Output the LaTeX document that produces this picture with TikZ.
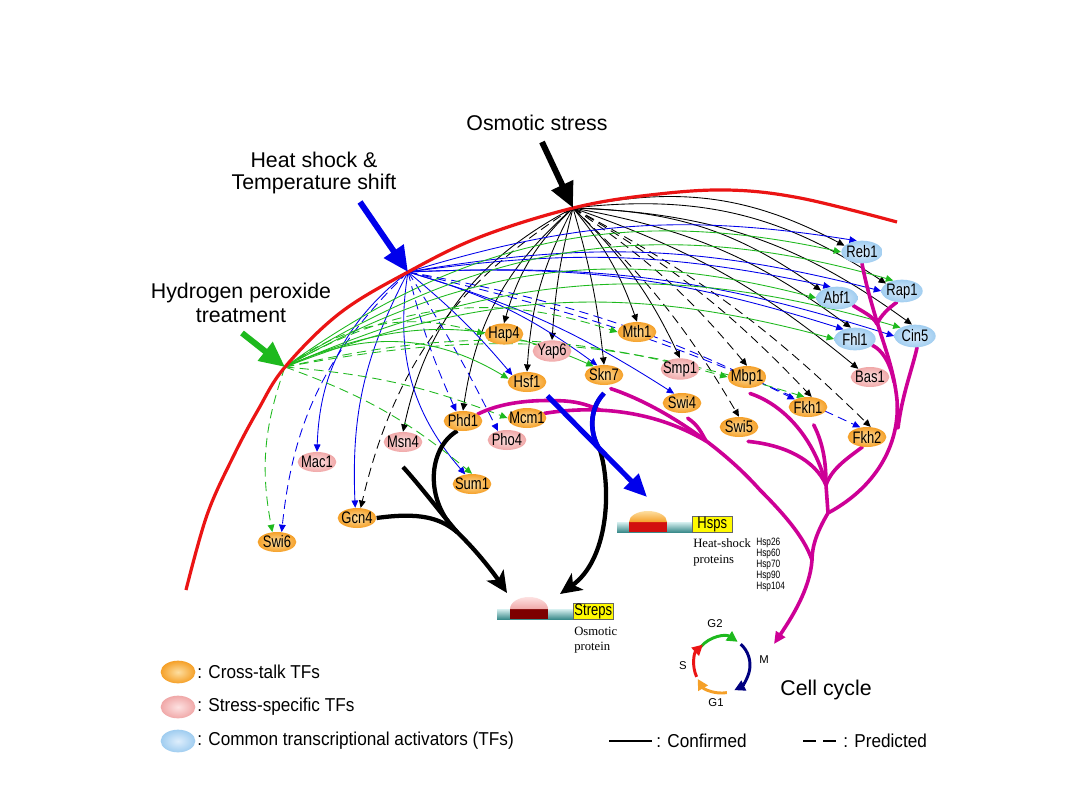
\documentclass[tikz,border=0pt]{standalone}
\usepackage{fontspec}
\setmainfont{Liberation Sans}
\newfontfamily\narrowf[FakeStretch=0.78]{Liberation Sans}
\newfontfamily\legf[FakeStretch=0.92]{Liberation Sans}
\newfontfamily\seriff{Liberation Serif}
\usetikzlibrary{arrows.meta,shapes.geometric}
\pgfdeclarelayer{bg}
\pgfsetlayers{bg,main}
\definecolor{orgA}{RGB}{245,160,40}
\definecolor{orgB}{RGB}{253,222,160}
\definecolor{pnkA}{RGB}{240,168,168}
\definecolor{pnkB}{RGB}{253,225,225}
\definecolor{bluA}{RGB}{160,205,240}
\definecolor{bluB}{RGB}{222,238,252}
\definecolor{cblue}{RGB}{0,0,235}
\definecolor{cgreen}{RGB}{30,185,30}
\definecolor{cred}{RGB}{235,20,20}
\definecolor{cmag}{RGB}{205,0,150}
\definecolor{cnavy}{RGB}{0,0,128}
\definecolor{corange}{RGB}{245,160,40}
\definecolor{tealA}{RGB}{60,140,140}
\definecolor{tealB}{RGB}{215,240,240}
\definecolor{dred}{RGB}{125,0,0}
\definecolor{hred}{RGB}{210,15,15}
\definecolor{yel}{RGB}{255,250,0}
\newcommand{\zb}[1]{\makebox[0pt]{#1}}
\begin{document}
\begin{tikzpicture}[x=0.75pt,y=-0.75pt,
  tfb/.style={ellipse, inner sep=0pt, minimum width=29pt, minimum height=15pt, font=\narrowf\fontsize{12.5}{12.5}\selectfont, shading=radial},
  ct/.style={tfb, inner color=orgB, outer color=orgA},
  ss/.style={tfb, inner color=pnkB, outer color=pnkA},
  ca/.style={tfb, minimum width=31pt, minimum height=17pt, inner color=bluB, outer color=bluA},
  ar/.style={line width=0.65pt, -{Triangle[length=5.5pt,width=5pt]}},
  kc/.style={ar, black},
  bc/.style={ar, cblue},
  gc/.style={ar, cgreen},
  pr/.style={dash pattern=on 7pt off 4pt},
  ttl/.style={font=\fontsize{16}{16}\selectfont, align=center},
  mag/.style={cmag, line width=2.7pt, line cap=round},
  thk/.style={line width=3.2pt, -{Stealth[length=16pt,width=15pt,inset=4pt]}},
  lgt/.style={anchor=west, inner sep=0pt, font=\legf\fontsize{14}{14}\selectfont},
  ccl/.style={font=\fontsize{8.5}{8.5}\selectfont, inner sep=0pt},
  cca/.style={line width=2.2pt, -{Triangle[length=8pt,width=8pt]}},
  ybox/.style={draw=black!60, fill=yel, inner sep=0pt, minimum width=30pt, minimum height=12pt, anchor=north west, font=\narrowf\fontsize{12.5}{12.5}\selectfont},
]
\useasboundingbox (0,0) rectangle (1080,810);
\begin{pgfonlayer}{bg}
\fill[white] (0,0) rectangle (1080,810);
\end{pgfonlayer}

% sources
\coordinate (O) at (573,208);
\coordinate (H) at (408,272);
\coordinate (P) at (285,367);
\coordinate (oA) at (542,142);
\coordinate (hA) at (360,202);
\coordinate (pA) at (242,333);
\coordinate (sA) at (507,593);
\coordinate (sB) at (560,594);
\coordinate (J) at (457,532);
\coordinate (M1) at (600,450);
\coordinate (hT) at (647,497);
\coordinate (ccT) at (774,644);
\coordinate (J2) at (826,485);
\coordinate (J3) at (828,513);
\coordinate (J4) at (812,560);
\coordinate (J5) at (706,441);
\coordinate (J6) at (600,410);

% titles
\node[ttl] (osl) at (537,123) {Osmotic stress};
\node[ttl] (hsl) at (314,173) {Heat shock \&\\Temperature shift};
\node[ttl, font=\fontsize{16}{18}\selectfont] (hpl) at (241,303) {Hydrogen peroxide\\treatment};

% TF nodes
\node[ca] (Reb1) at (862,252) {\zb{Reb1}};
\node[ca] (Rap1) at (902,291) {\zb{Rap1}};
\node[ca] (Abf1) at (837,298) {\zb{Abf1}};
\node[ca] (Fhl1) at (855,339) {\zb{Fhl1}};
\node[ca] (Cin5) at (915,336) {\zb{Cin5}};
\node[ss] (Bas1) at (870,377) {\zb{Bas1}};
\node[ct] (Hap4) at (504,334) {\zb{Hap4}};
\node[ss] (Yap6) at (552,351) {\zb{Yap6}};
\node[ct] (Mth1) at (637,332) {\zb{Mth1}};
\node[ct] (Hsf1) at (527,382) {\zb{Hsf1}};
\node[ct] (Skn7) at (604,375) {\zb{Skn7}};
\node[ss] (Smp1) at (680,369) {\zb{Smp1}};
\node[ct] (Mbp1) at (747,377) {\zb{Mbp1}};
\node[ct] (Swi4) at (682,403) {\zb{Swi4}};
\node[ct] (Fkh1) at (808,407) {\zb{Fkh1}};
\node[ct] (Swi5) at (739,427) {\zb{Swi5}};
\node[ct] (Fkh2) at (867,437) {\zb{Fkh2}};
\node[ct] (Phd1) at (463,421) {\zb{Phd1}};
\node[ct] (Mcm1) at (527,418) {\zb{Mcm1}};
\node[ss] (Pho4) at (507,440) {\zb{Pho4}};
\node[ss] (Msn4) at (403,442) {\zb{Msn4}};
\node[ss] (Mac1) at (317,462) {\zb{Mac1}};
\node[ct] (Sum1) at (472,484) {\zb{Sum1}};
\node[ct] (Gcn4) at (357,518) {\zb{Gcn4}};
\node[ct] (Swi6) at (277,542) {\zb{Swi6}};

\begin{pgfonlayer}{bg}
% black, osmotic
\draw[kc] (O) to[bend left=20] (Reb1.160);
\draw[kc] (O) to[bend left=20] (Rap1.155);
\draw[kc] (O) to[bend left=17] (Abf1.155);
\draw[kc] (O) to[bend left=17] (Cin5.105);
\draw[kc] (O) to[bend left=13] (Fhl1.110);
\draw[kc] (O) to[bend left=10] (Bas1.145);
\draw[kc] (O) to[bend left=10] (Mth1.north);
\draw[kc] (O) to[bend left=10] (Smp1.north);
\draw[kc] (O) to[bend left=5] (Skn7.north);
\draw[kc] (O) to[bend right=5] (Yap6.north);
\draw[kc] (O) to[bend right=15] (Hap4.north);
\draw[kc] (O) to[bend right=12] (Hsf1.north);
\draw[kc] (O) to[bend right=20] (Phd1.north);
\draw[kc] (O) to[bend right=25] (Msn4.north);
\draw[kc,pr] (O) to[bend right=22] (Gcn4.70);
\draw[kc,pr] (O) to[bend left=8] (Mbp1.north);
\draw[kc,pr] (O) to[bend left=8] (Swi5.north);
\draw[kc,pr] (O) to[bend left=8] (Fkh1.70);
\draw[kc,pr] (O) to[bend left=8] (Fkh2.70);
% blue, heat
\draw[bc] (H) to[bend left=13] (Reb1.115);
\draw[bc] (H) to[bend left=12] (Rap1.west);
\draw[bc] (H) to[bend left=10] (Abf1.120);
\draw[bc] (H) to[bend left=10] (Cin5.west);
\draw[bc] (H) to[bend left=10] (Fhl1.140);
\draw[bc] (H) to[bend left=5] (Hsf1.155);
\draw[bc] (H) to[bend left=10] (Skn7.125);
\draw[bc] (H) to[bend left=8] (Swi4.130);
\draw[bc,pr] (H) to[bend right=5] (Phd1.125);
\draw[bc,pr] (H) to[bend left=3] (Pho4.135);
\draw[bc] (H) to[bend right=25] (Sum1.125);
\draw[bc] (H) to[bend right=15] (Gcn4.100);
\draw[bc] (H) to[bend right=25] (Mac1.north);
\draw[bc,pr] (H) to[bend right=20] (Swi6.65);
\draw[bc,pr] (H) to[bend left=8] (Fkh1.150);
\draw[bc,pr] (H) to[bend left=6] (Fkh2.125);
% green, peroxide
\draw[gc] (P) to[bend left=24] (Reb1.west);
\draw[gc] (P) to[bend left=24] (Rap1.130);
\draw[gc] (P) to[bend left=22] (Abf1.west);
\draw[gc] (P) to[bend left=20] (Cin5.150);
\draw[gc] (P) to[bend left=18] (Fhl1.west);
\draw[gc,pr] (P) to[bend left=26] (Hap4.west);
\draw[gc,pr] (P) to[bend left=24] (Mth1.west);
\draw[gc] (P) to[bend left=28] (Hsf1.170);
\draw[gc] (P) to[bend left=24] (Skn7.140);
\draw[gc,pr] (P) to[bend left=8] (Mcm1.west);
\draw[gc,pr] (P) to[bend left=10] (Sum1.north);
\draw[gc,pr] (P) to[bend right=15] (Swi6.115);
\draw[gc,pr] (P) to[bend left=14] (Mbp1.west);
\draw[gc,pr] (P) to[bend left=14] (Fkh1.110);

% red border
\draw[cred, line width=2.4pt] plot[smooth, tension=0.6] coordinates {(186,590) (207,515) (233,457) (258,410) (285,367) (340,313) (408,272) (480,237) (573,208) (650,195) (727,190) (800,198) (897,222)};

% magenta cell-cycle network
\draw[mag, -{Triangle[length=9pt,width=8pt]}] (Reb1.south) .. controls (866,285) and (872,305) .. (877,322) .. controls (884,345) and (894,370) .. (897,400) .. controls (900,440) and (880,485) .. (J3) .. controls (818,530) and (812,545) .. (J4) .. controls (810,590) and (790,620) .. (ccT);
\draw[mag] (Abf1.-25) .. controls (863,312) and (873,316) .. (877,324);
\draw[mag] (Rap1.-115) .. controls (889,308) and (881,315) .. (877,324);
\draw[mag] (Fhl1.-20) .. controls (882,350) and (890,362) .. (894,382);
\draw[mag] (Cin5.-80) .. controls (912,370) and (902,395) .. (898,428);
\draw[mag] (Fkh2.-115) .. controls (848,458) and (832,468) .. (J2);
\draw[mag] ([yshift=-6pt]Fkh1.-60) .. controls (824,445) and (826,465) .. (J2);
\draw[mag] ([yshift=-4pt]Mbp1.-75) .. controls (785,405) and (815,440) .. (J2);
\draw[mag] ([yshift=-4pt]Swi5.-45) .. controls (785,445) and (815,460) .. (J2);
\draw[mag] (J2) -- (J3);
\draw[mag] ([yshift=-3pt]Skn7.-55) .. controls (660,405) and (720,445) .. (760,490) .. controls (790,520) and (805,540) .. (J4);
\draw[mag] ([yshift=-4pt]Swi4.-60) .. controls (698,425) and (701,432) .. (J5);
\draw[mag] (Mcm1.15) .. controls (590,406) and (650,408) .. (J5);
\draw[mag] (Phd1.25) .. controls (500,403) and (530,399) .. (565,401) .. controls (580,402) and (590,406) .. (J6);

% thick black to Streps
\draw[thk] (Gcn4.east) .. controls (420,512) and (440,518) .. (J) .. controls (478,552) and (495,575) .. (sA);
\draw[line width=3.2pt] ([yshift=-11pt]Msn4.south) .. controls (422,488) and (440,512) .. (J);
\draw[line width=3.2pt] (Phd1.-120) .. controls (428,448) and (424,500) .. (J);
\draw[thk] ([yshift=-6pt]Skn7.south) .. controls (588,410) and (590,435) .. (M1) .. controls (612,490) and (608,560) .. (sB);
% blue to Hsps
\draw[cblue, line width=3.8pt, -{Triangle[length=17pt,width=15pt]}] ([shift={(5pt,-5pt)}]Hsf1.south east) -- (hT);
\draw[cblue, line width=3.5pt] ([yshift=-6pt]Skn7.south) .. controls (588,410) and (590,435) .. (M1);
\end{pgfonlayer}

% stimulus arrows
\draw[line width=4.5pt, -{Triangle[length=19pt,width=17pt]}] (oA) -- (O);
\draw[cblue, line width=4.5pt, -{Triangle[length=19pt,width=17pt]}] (hA) -- (H);
\draw[cgreen, line width=4.5pt, -{Triangle[length=19pt,width=17pt]}] (pA) -- (P);

% Streps gene
\shade[top color=tealB, bottom color=tealA] (497,609) rectangle (573,619);
\fill[dred] (510,609) rectangle (548,619);
\shade[top color=pnkB, bottom color=pnkA] (510,609) arc[start angle=180, end angle=360, x radius=19, y radius=12] -- cycle;
\node[ybox] (streps) at (573,603) {Streps};
\node[anchor=west, inner sep=0pt, align=left, font=\seriff\fontsize{9.5}{11.2}\selectfont] (osmp) at (574,640) {Osmotic\\protein};

% Hsps gene
\shade[top color=tealB, bottom color=tealA] (617,522) rectangle (692,532);
\fill[hred] (629,522) rectangle (667,532);
\shade[top color=orgB, bottom color=orgA] (629,522) arc[start angle=180, end angle=360, x radius=19, y radius=11] -- cycle;
\node[ybox] (hsps) at (692,516) {Hsps};
\node[anchor=west, inner sep=0pt, align=left, font=\seriff\fontsize{9.5}{12}\selectfont] (hsp) at (693,552) {Heat-shock\\proteins};
\node[anchor=north west, inner sep=0pt, align=left, font=\narrowf\fontsize{8}{8.3}\selectfont] (hspl) at (756,538) {Hsp26\\Hsp60\\Hsp70\\Hsp90\\Hsp104};

% cell cycle
\begin{scope}[shift={(722,665)}, y=0.75pt]
\draw[cca, cgreen] (140:28) arc[start angle=140, end angle=56, radius=28];
\draw[cca, cnavy] (48:28) arc[start angle=48, end angle=-64, radius=28];
\draw[cca, corange] (-80:28) arc[start angle=-80, end angle=-150, radius=28];
\draw[cca, cred] (205:28) arc[start angle=205, end angle=133, radius=28];
\end{scope}
\node[ccl] (g2) at (715,624) {G2};
\node[ccl] (mm) at (764,660) {M};
\node[ccl] (ss) at (683,666) {S};
\node[ccl] (g1) at (716,703) {G1};
\node[font=\fontsize{16}{16}\selectfont] (ccy) at (826,690) {Cell cycle};

% legend
\node[ct, minimum width=26pt, minimum height=17pt] (lg1) at (178,672) {};
\node[ss, minimum width=26pt, minimum height=17pt] (lg2) at (178,707) {};
\node[ca, minimum width=26pt, minimum height=17pt] (lg3) at (178,741) {};
\node[lgt] (lt1) at (197,672) {: Cross-talk TFs};
\node[lgt] (lt2) at (197,707) {: Stress-specific TFs};
\node[lgt] (lt3) at (197,741) {: Common transcriptional activators (TFs)};
\coordinate (cfA) at (609,741);
\coordinate (cfB) at (652,741);
\draw[line width=1.3pt] (cfA) -- (cfB);
\node[lgt] (lt4) at (656,741) {: Confirmed};
\coordinate (pdA) at (803,741);
\coordinate (pdB) at (840,741);
\draw[line width=1.3pt, dash pattern=on 10pt off 5pt] (pdA) -- (pdB);
\node[lgt] (lt5) at (843,741) {: Predicted};
\end{tikzpicture}
\end{document}
